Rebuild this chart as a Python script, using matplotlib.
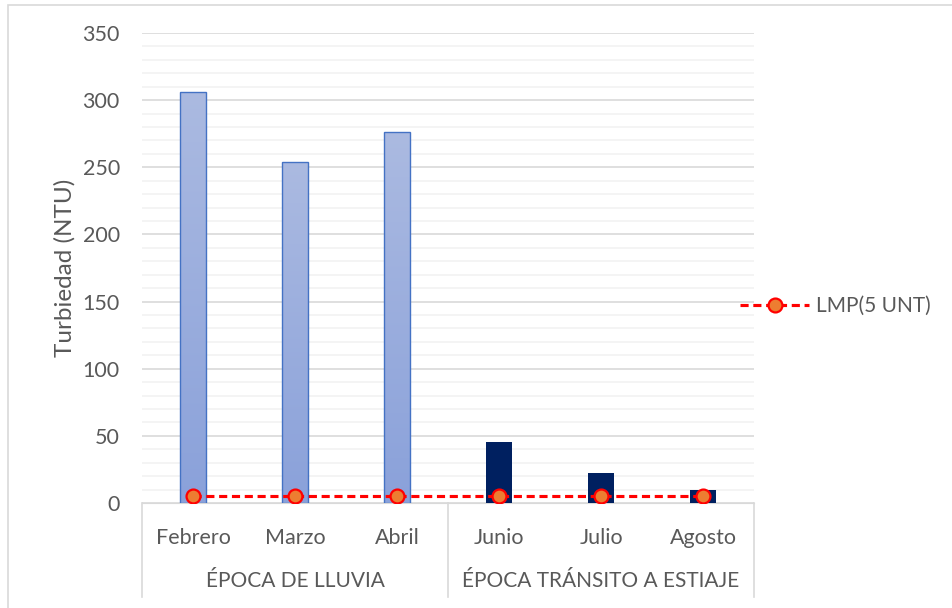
import numpy as np
import matplotlib
matplotlib.use('Agg')
import matplotlib.pyplot as plt
from matplotlib.patches import Rectangle
from matplotlib.lines import Line2D
import matplotlib.transforms as mtransforms

plt.rcParams['font.family'] = ['Lato', 'DejaVu Sans']

meses = ['Febrero', 'Marzo', 'Abril', 'Junio', 'Julio', 'Agosto']
turbiedad = [306, 254, 276, 45.6, 22.5, 9.7]
lmp = [5, 5, 5, 5, 5, 5]
epocas = ['ÉPOCA DE LLUVIA', 'ÉPOCA TRÁNSITO A ESTIAJE']
epoca_meses = [3, 3]

gris = '#595959'
fs = 15.5
fig = plt.figure(figsize=(9.52, 6.08), dpi=100)
ax = fig.add_axes([142/952, 1-503/608, 612/952, 470/608])

# chart border
fig.patches.append(Rectangle((8/952, -0.1), 1.2, 1-5/608+0.1, transform=fig.transFigure,
                             fill=False, edgecolor='#d9d9d9', linewidth=1.2))

x = np.arange(len(meses))
ancho = 0.25
grad = np.linspace(0, 1, 256).reshape(-1, 1)
cmap_lluvia = matplotlib.colors.LinearSegmentedColormap.from_list('ll', ['#8aa1da', '#abbae1'])
for i, v in enumerate(turbiedad):
    if i < 3:
        bar = ax.bar(x[i], v, ancho, color='none', edgecolor='#4472c4', linewidth=1, zorder=3)[0]
        im = ax.imshow(grad, cmap=cmap_lluvia, aspect='auto', origin='lower',
                       extent=[x[i]-ancho/2, x[i]+ancho/2, 0, v], zorder=2)
        im.set_clip_path(bar)
    else:
        ax.bar(x[i], v, ancho, color='#002060', zorder=3)

ax.plot(x, lmp, color='#ff0000', linestyle=(0, (2.6, 1.5)), linewidth=2.25,
        marker='o', markersize=10, markerfacecolor='#ed7d31', markeredgecolor='#ff0000',
        markeredgewidth=1.6, zorder=4, label='LMP(5 UNT)')

ax.set_xlim(-0.5, 5.5)
ax.set_ylim(0, 350)
ax.set_yticks(np.arange(0, 351, 50))
ax.set_yticks(np.arange(0, 351, 10), minor=True)
ax.grid(axis='y', which='major', color='#d9d9d9', linewidth=1.2, zorder=0)
ax.grid(axis='y', which='minor', color='#f2f2f2', linewidth=1.2, zorder=0)
ax.set_axisbelow(True)
for s in ['top', 'right', 'left']:
    ax.spines[s].set_visible(False)
ax.spines['bottom'].set_color('#d9d9d9')
ax.tick_params(axis='y', which='both', length=0, pad=16, labelsize=fs, labelcolor=gris)
ax.tick_params(axis='x', length=0, pad=18, labelsize=fs, labelcolor=gris)
ax.set_xticks(x)
ax.set_xticklabels(meses)
ax.set_ylabel('Turbiedad (NTU)', fontsize=17.5, color=gris, labelpad=5)

# two-level category axis
trans = mtransforms.blended_transform_factory(ax.transData, ax.transAxes)
bordes = [-0.5]
for n in epoca_meses:
    bordes.append(bordes[-1] + n)
for b in bordes:
    ax.add_line(Line2D([b, b], [0, -0.2], transform=trans, color='#d9d9d9',
                       linewidth=1.2, clip_on=False))
for j, nombre in enumerate(epocas):
    ax.text((bordes[j] + bordes[j+1]) / 2, -0.165, nombre, transform=trans,
            ha='center', va='center', fontsize=15, color=gris)

fig.legend(loc='center left', bbox_to_anchor=(730/952, 1-306/608), frameon=False,
           borderpad=0, fontsize=15, labelcolor=gris, handlelength=3.3, handletextpad=0.33)

fig.savefig('out.png', dpi=100)
